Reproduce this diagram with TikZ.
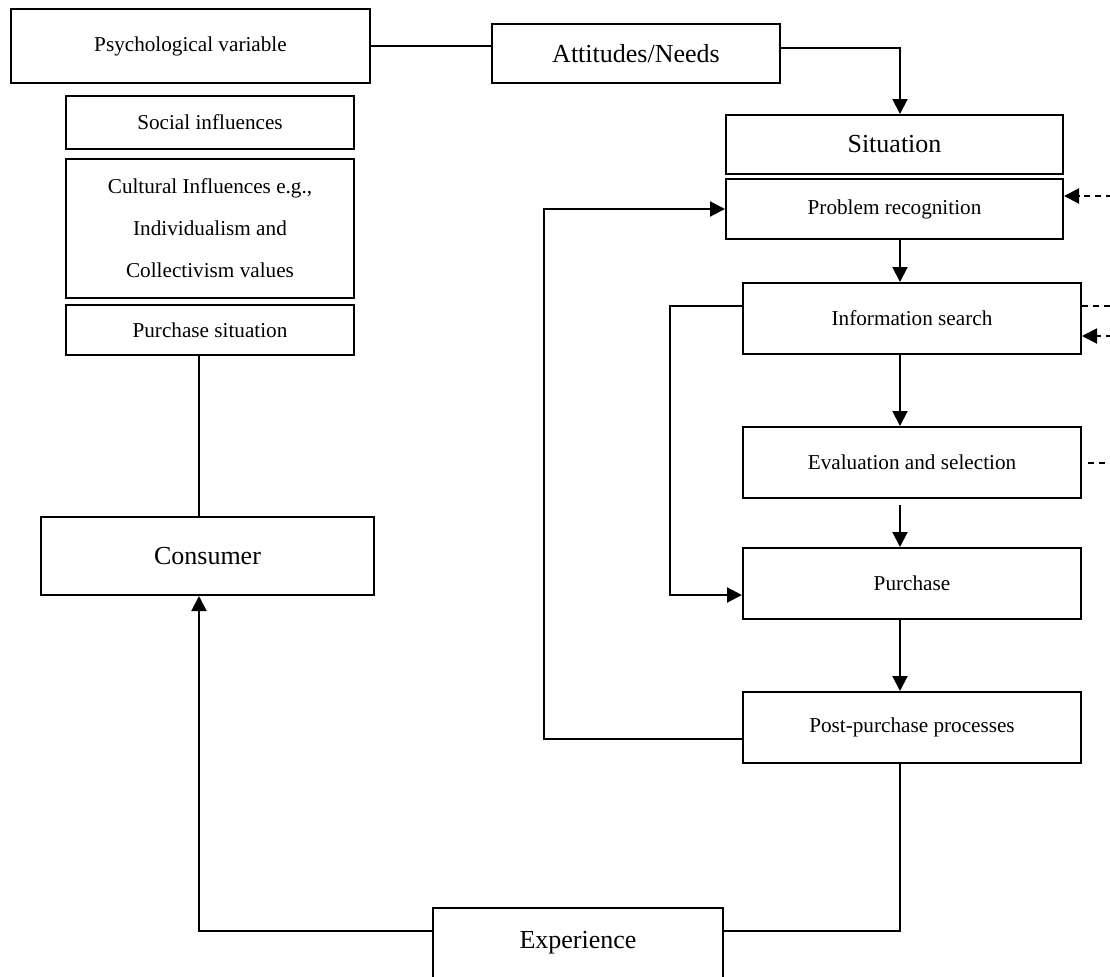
\documentclass[tikz,border=0pt]{standalone}
\usepackage{fontspec}
\setmainfont{Liberation Serif}
\usetikzlibrary{arrows.meta}
\usetikzlibrary{positioning}

\begin{document}
\begin{tikzpicture}[x=0.5pt, y=-0.5pt,
	box/.style = {draw, line width=1pt, inner sep=0pt, align=center,
		font=\fontsize{10.6}{21}\selectfont},
	bigbox/.style = {box, font=\fontsize{13}{15}\selectfont},
	link/.style = {line width=1pt},
	arr/.style = {link, -{Triangle[length=7.5pt, width=7.5pt]}},
	dashlink/.style = {link, dash pattern=on 3pt off 2.5pt}
	]
	\useasboundingbox (0,0) rectangle (1110,976);
	\clip (0,0) rectangle (1110,976);

	% left column
	\node (psych) [box, minimum width=179.5pt, minimum height=37pt] at (190.5,46) {Psychological variable};
	\node (social) [box, minimum width=144pt, minimum height=26.5pt] at (210,122.5) {Social influences};
	\node (cultural) [box, minimum width=144pt, minimum height=69.5pt] at (210,228.5)
		{Cultural Influences e.g.,\\Individualism and\\Collectivism values};
	\node (pursit) [box, minimum width=144pt, minimum height=25pt] at (210,330) {Purchase situation};
	\node (consumer) [bigbox, minimum width=166.5pt, minimum height=39pt] at (207.5,556) {Consumer};
	\node (experience) [bigbox, anchor=north, minimum width=145pt,
		text height=20pt, text depth=26.5pt] at (578,907) {Experience};

	% right column
	\node (attit) [bigbox, minimum width=144pt, minimum height=29.5pt] at (636,53.5) {Attitudes/Needs};
	\node (situation) [bigbox, minimum width=168.5pt, minimum height=29.5pt] at (894.5,144.5) {Situation};
	\node (problem) [box, minimum width=168.5pt, minimum height=30pt] at (894.5,209) {Problem recognition};
	\node (info) [box, minimum width=169pt, minimum height=35.5pt] at (912,318.5) {Information search};
	\node (eval) [box, minimum width=169pt, minimum height=35.5pt] at (912,462.5) {Evaluation and selection};
	\node (purchase) [box, minimum width=169pt, minimum height=35.5pt] at (912,583.5) {Purchase};
	\node (post) [box, minimum width=169pt, minimum height=35.5pt] at (912,727.5) {Post-purchase processes};

	\coordinate (spine) at (900,0);
	\coordinate (lspine) at (199,0);
	\coordinate (loopa) at (544,739);
	\coordinate (loopb) at (670,306);
	\coordinate (floor) at (0,931);
	\coordinate (edgea) at (1112,196);
	\coordinate (edgeb) at (1112,306);
	\coordinate (edgec) at (1112,336);

	\draw [link] (psych.east) -- (psych.east -| attit.west);
	\draw [arr] (attit.east |- 0,48) -| (situation.north -| spine);
	\path [arr]
	(problem.south -| spine) edge (info.north -| spine)
	(info.south -| spine) edge (eval.north -| spine)
	(eval.south -| spine) edge[shorten <=3pt] (purchase.north -| spine)
	(purchase.south -| spine) edge (post.north -| spine);
	\draw [arr] (post.west |- loopa) -- (loopa) |- (problem.west);
	\draw [arr] (info.west |- loopb) -- (loopb) |- (purchase.west |- 0,595);

	\draw [link] (pursit.south -| lspine) -- (consumer.north -| lspine);
	\draw [arr] (experience.west |- floor) -| (consumer.south -| lspine);
	\draw [link] (post.south -| spine) |- (experience.east |- floor);

	% dashed inputs on the right edge
	\draw [arr, dashlink] (edgea) -- (problem.east |- edgea);
	\draw [dashlink] (info.east |- edgeb) -- (edgeb);
	\draw [arr, dashlink] (edgec) -- (info.east |- edgec);
	\draw [dashlink, shorten <=3pt] (eval.east) -- (eval.east -| edgea);
\end{tikzpicture}
\end{document}
